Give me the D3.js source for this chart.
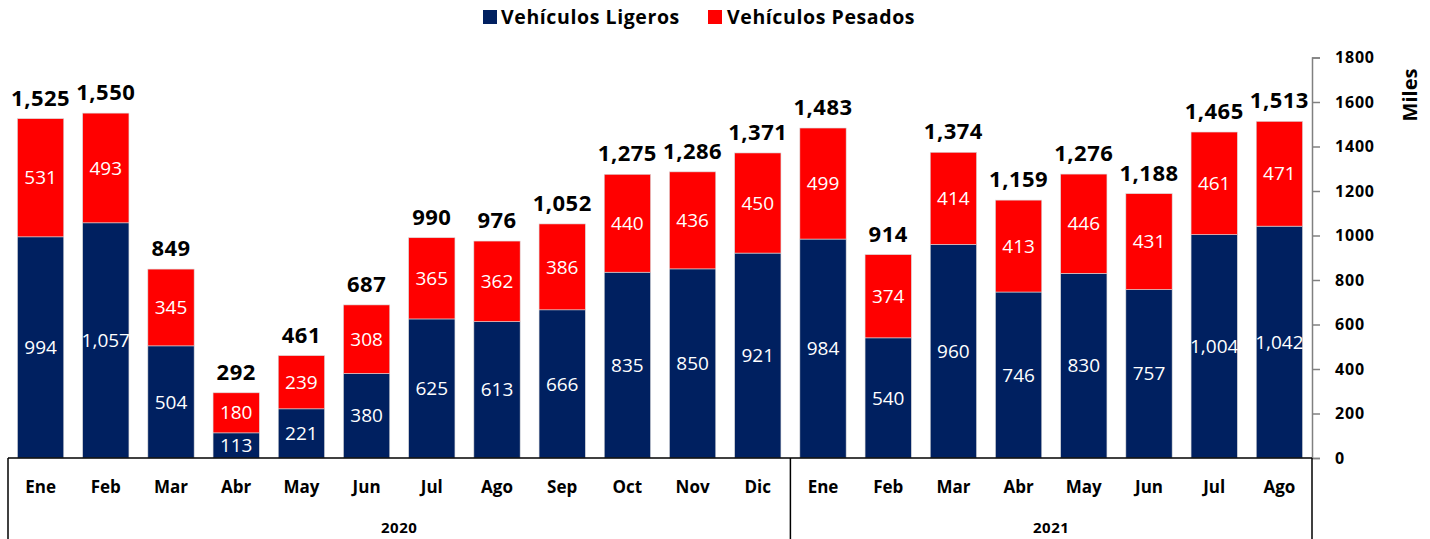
<!DOCTYPE html>
<html><head><meta charset="utf-8">
<script src="https://cdn.jsdelivr.net/npm/d3@7"></script>
<style>body{margin:0;background:#fff;}svg{display:block;font-family:"Open Sans",Lato,sans-serif;}</style>
</head><body>
<svg id="c" width="1430" height="539"></svg>
<script>
const months = ["Ene","Feb","Mar","Abr","May","Jun","Jul","Ago","Sep","Oct","Nov","Dic","Ene","Feb","Mar","Abr","May","Jun","Jul","Ago"];
const years = [{label:"2020", from:0, to:11},{label:"2021", from:12, to:19}];
const ligeros = [994,1057,504,113,221,380,625,613,666,835,850,921,984,540,960,746,830,757,1004,1042];
const pesados = [531,493,345,180,239,308,365,362,386,440,436,450,499,374,414,413,446,431,461,471];
const totals = [1525,1550,849,292,461,687,990,976,1052,1275,1286,1371,1483,914,1374,1159,1276,1188,1465,1513];
const yTicks = [0,200,400,600,800,1000,1200,1400,1600,1800];
const seriesNames = ["Vehículos Ligeros","Vehículos Pesados"];
const colors = ["#002060","#ff0000"];

const svg = d3.select("#c");
const left = 8, right = 1312, y0 = 458, yTop = 57.5;
const idx = d3.range(months.length);
const x = d3.scaleBand().domain(idx).range([left, right]).paddingInner(0.29).paddingOuter(0.145);
const y = d3.scaleLinear().domain([0,1800]).range([y0, yTop]);

const fmt = d3.format(",");

// bars
const g = svg.append("g");
idx.forEach(i => {
  const bx = x(i), bw = x.bandwidth();
  g.append("rect").attr("x", bx).attr("y", y(ligeros[i])).attr("width", bw).attr("height", y0 - y(ligeros[i]))
    .attr("fill", colors[0]).attr("stroke","#d9d9d9").attr("stroke-width",0.6);
  g.append("rect").attr("x", bx).attr("y", y(ligeros[i]+pesados[i])).attr("width", bw).attr("height", y(ligeros[i]) - y(ligeros[i]+pesados[i]))
    .attr("fill", colors[1]).attr("stroke","#d9d9d9").attr("stroke-width",0.6);
  const cx = bx + bw/2;
  g.append("text").attr("x", cx).attr("y", (y0 + y(ligeros[i]))/2).attr("dy","0.35em")
    .attr("text-anchor","middle").attr("fill","#fff").attr("font-size",19).text(fmt(ligeros[i]));
  g.append("text").attr("x", cx).attr("y", (y(ligeros[i]) + y(ligeros[i]+pesados[i]))/2).attr("dy","0.35em")
    .attr("text-anchor","middle").attr("fill","#fff").attr("font-size",19).text(fmt(pesados[i]));
  g.append("text").attr("x", cx).attr("y", y(ligeros[i]+pesados[i]) - 13)
    .attr("text-anchor","middle").attr("fill","#000").attr("font-size",22).attr("font-weight","bold")
    .attr("letter-spacing",0.5).text(fmt(totals[i]));
});

// right axis
const ax = svg.append("g").attr("transform", `translate(${right},0)`)
  .call(d3.axisRight(y).tickValues(yTicks).tickSize(8).tickPadding(15).tickFormat(d3.format("d")));
ax.select(".domain").attr("stroke","#808080").attr("stroke-width",1.5);
ax.selectAll(".tick line").attr("stroke","#808080").attr("stroke-width",1.5);
ax.selectAll(".tick text").attr("font-size",16).attr("font-weight","bold").attr("fill","#000")
  .attr("letter-spacing",0.8).attr("font-family","'Open Sans', sans-serif");

// category box
const box = svg.append("g").attr("stroke","#000").attr("stroke-width",1.5);
box.append("line").attr("x1",left).attr("x2",right).attr("y1",y0).attr("y2",y0);
box.append("line").attr("x1",left).attr("x2",left).attr("y1",y0).attr("y2",539);
box.append("line").attr("x1",right).attr("x2",right).attr("y1",y0).attr("y2",539);
const divX = (x(11) + x.bandwidth() + x(12))/2;
box.append("line").attr("x1",divX).attr("x2",divX).attr("y1",y0).attr("y2",539);

idx.forEach(i => {
  svg.append("text").attr("x", x(i)+x.bandwidth()/2).attr("y", 493).attr("text-anchor","middle")
    .attr("font-size",17).attr("font-weight","bold").attr("fill","#000").text(months[i]);
});
years.forEach(yr => {
  const a = yr.from === 0 ? left : divX;
  const b = yr.to === months.length-1 ? right : divX;
  svg.append("text").attr("x",(a+b)/2).attr("y",533).attr("text-anchor","middle")
    .attr("font-size",15).attr("font-weight","bold").attr("fill","#000").attr("letter-spacing",0.5).text(yr.label);
});

// axis title
svg.append("text").attr("transform","translate(1417,95) rotate(-90)").attr("text-anchor","middle")
  .attr("font-size",20).attr("font-weight","bold").attr("fill","#000").text("Miles");

// legend
const leg = [{x:483, tx:501},{x:708, tx:727}];
seriesNames.forEach((n,i) => {
  svg.append("rect").attr("x",leg[i].x).attr("y",10).attr("width",14).attr("height",14).attr("fill",colors[i]);
  svg.append("text").attr("x",leg[i].tx).attr("y",24).attr("font-size",19.5).attr("font-weight","bold")
    .attr("letter-spacing",0.6).attr("fill","#000").text(n);
});
</script>
</body></html>
